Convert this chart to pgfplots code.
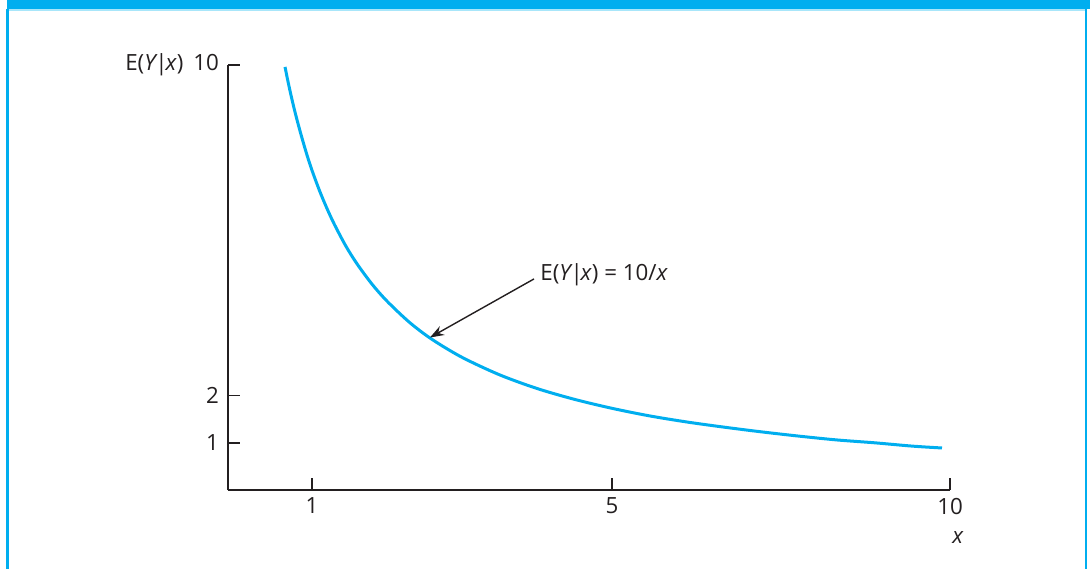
\documentclass[border=0pt]{standalone}
\usepackage{fontspec}
\setmainfont{Open Sans}
\usepackage{pgfplots}
\pgfplotsset{compat=1.18}
\usetikzlibrary{arrows.meta}
\definecolor{cyanbar}{HTML}{00AEEF}
\definecolor{cyanlight}{HTML}{A8E6FA}
\definecolor{ink}{HTML}{231F20}
\newcommand{\vbar}{\kern-1.1pt|\kern-1.1pt}
\newcommand{\EYx}{E(\textit{Y}\vbar\textit{x})}
\begin{document}
\begin{tikzpicture}[font=\fontsize{11.2}{13.5}\selectfont]
\begin{scope}[x=0.5bp,y=-0.5bp]
\path[use as bounding box] (0,0) rectangle (1090,569);
\fill[cyanbar] (6.5,0) rectangle (1090,9.5);
\fill[cyanlight] (8,9.5) rectangle (1085,11);
\draw[cyanbar,line width=1bp] (7.5,9) -- (7.5,569);
\draw[cyanbar,line width=1bp] (1086,9) -- (1086,569);
\node[text=ink,anchor=center] at (958,538) {\textit{x}};
\end{scope}
\begin{axis}[
  at={(114bp,-245bp)}, anchor=south west,
  scale only axis, width=361bp, height=212.5bp,
  xmin=-0.12, xmax=9.507, ymin=0, ymax=9,
  axis lines=left, axis line style={-, ink, line width=0.9bp},
  tick align=inside, major tick length=6bp,
  tick style={ink, line width=0.9bp},
  xtick={1,5,9.507}, xticklabels={1,5,10},
  ytick={1,2,9}, yticklabels={1,2,{\EYx\hspace{5bp}10}},
  ticklabel style={text=ink},
  xticklabel style={yshift=-0.5bp},
  yticklabel style={xshift=-1bp},
  clip=false,
]
\addplot[cyanbar, line width=1.5bp, smooth] coordinates {
(0.64,8.96) (0.68,8.65) (0.72,8.36) (0.76,8.09) (0.80,7.84)
(0.86,7.49) (0.93,7.11) (1.00,6.77) (1.10,6.34) (1.20,5.96)
(1.30,5.62) (1.45,5.17) (1.60,4.79) (1.80,4.36) (2.00,4.00)
(2.30,3.55) (2.60,3.19) (3.00,2.81) (3.50,2.44) (4.00,2.15)
(4.50,1.92) (5.00,1.73) (5.50,1.57) (6.00,1.44) (6.50,1.33)
(7.00,1.23) (7.50,1.14) (8.00,1.06) (8.50,1.00) (9.00,0.93)
(9.40,0.89)
};
\draw[ink, line width=0.7bp, -{Stealth[length=7bp,width=5bp]}] (axis cs:3.96,4.47) -- (axis cs:2.573,3.23);
\node[anchor=west, text=ink, inner sep=0pt] at (axis cs:4.04,4.55) {\EYx{} = 10/\textit{x}};
\end{axis}
\end{tikzpicture}
\end{document}
